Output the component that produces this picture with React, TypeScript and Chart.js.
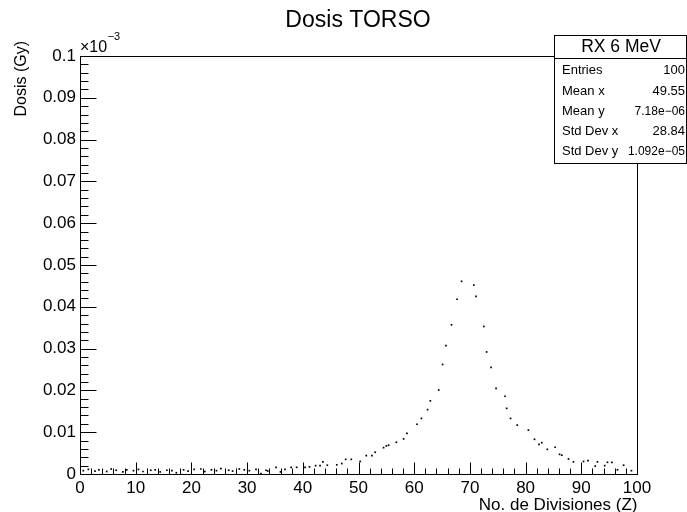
import React, { useEffect, useRef } from "react";
import { Chart, registerables } from "chart.js";

Chart.register(...registerables);

const FONT = "'Liberation Sans', Arial, Helvetica, sans-serif";

const TITLE = "Dosis TORSO";
const X_TITLE = "No. de Divisiones (Z)";
const Y_TITLE = "Dosis (Gy)";
const Y_EXPONENT = "\u22123";
const STATS_TITLE = "RX 6 MeV";
const statLabels = ["Entries", "Mean x", "Mean y", "Std Dev x", "Std Dev y"];
const statValues = ["100", "49.55", "7.18e\u221206", "28.84", "1.092e\u221205"];

// x axis: No. de Divisiones (Z)
const X_MIN = 0;
const X_MAX = 100;
const X_MAJOR = 10;
const X_MINOR = 2;
// y axis: Dosis in units of 10^-3 Gy
const Y_MIN = 0;
const Y_MAX = 0.1;
const Y_MAJOR = 0.01;
const Y_MINOR = 0.002;

const xLow = [0.6, 1.5, 2.7, 3.4, 4.8, 5.6, 6.5, 7.7, 8.4, 9.6, 10.5, 11.3, 12.7, 13.5, 14.4, 15.6, 16.5, 17.3, 18.6, 19.4, 20.5, 21.7, 22.4, 23.6, 24.5, 25.3, 26.7, 27.4, 28.6, 29.5, 30.4, 31.6];
const yLow = [0.0008, 0.0011, 0.0007, 0.001, 0.0006, 0.0012, 0.0009, 0.0005, 0.001, 0.0008, 0.0011, 0.0006, 0.0009, 0.001, 0.0005, 0.0009, 0.0008, 0.0003, 0.001, 0.0007, 0.0011, 0.0012, 0.0006, 0.001, 0.0008, 0.0013, 0.0009, 0.0007, 0.0012, 0.001, 0.0008, 0.0011];

const xMid = [32.5, 33.4, 33.7, 35.2, 36.0, 36.8, 37.9, 38.9, 40.4, 41.2, 42.3, 43.1, 43.6, 44.4, 46.1, 47.0, 47.7, 48.7, 50.3, 51.4, 52.4, 53.0, 54.5, 55.0, 55.4, 56.8];
const yMid = [0.0001, 0.0009, 0.0007, 0.0016, 0.0005, 0.0011, 0.0016, 0.0016, 0.0016, 0.0017, 0.002, 0.002, 0.0029, 0.0021, 0.0022, 0.0025, 0.0035, 0.0035, 0.003, 0.0044, 0.0044, 0.0052, 0.0063, 0.0067, 0.0069, 0.0076];

const xRise = [58.1, 58.7, 60.5, 61.3, 62.4, 62.9, 64.4, 65.1, 65.7, 66.7, 67.7, 68.5];
const yRise = [0.0084, 0.0097, 0.0119, 0.0133, 0.0154, 0.0175, 0.0201, 0.0262, 0.0307, 0.0357, 0.0418, 0.0461];

const xFall = [70.7, 71.1, 72.5, 73.0, 73.8, 74.7, 76.3, 76.6, 77.3, 78.5, 80.5, 81.6, 82.4, 82.9, 83.9, 85.3, 86.1, 86.5, 87.7, 88.6, 90.4, 91.2, 92.5, 92.9, 94.2, 94.7, 95.5, 96.5, 97.6, 99.0];
const yFall = [0.0452, 0.0425, 0.0353, 0.0292, 0.0255, 0.0205, 0.0186, 0.0157, 0.0133, 0.0117, 0.0105, 0.0083, 0.0071, 0.0075, 0.0059, 0.0064, 0.0047, 0.0045, 0.0036, 0.0029, 0.003, 0.0032, 0.0019, 0.0029, 0.002, 0.0028, 0.0028, 0.001, 0.0021, 0.0008];

const xAll = [...xLow, ...xMid, ...xRise, ...xFall];
const yAll = [...yLow, ...yMid, ...yRise, ...yFall];

const isMultiple = (v: number, step: number) => Math.abs(v / step - Math.round(v / step)) < 1e-6;

const rootPlugin = {
  id: "rootStyle",
  beforeDraw(chart: any) {
    const { ctx, width, height } = chart;
    ctx.save();
    ctx.fillStyle = "#ffffff";
    ctx.fillRect(0, 0, width, height);
    ctx.restore();
  },
  afterDraw(chart: any) {
    const { ctx, chartArea: a } = chart;
    const xs = chart.scales.x;
    const ys = chart.scales.y;
    ctx.save();
    ctx.strokeStyle = "#000";
    ctx.lineWidth = 1;
    const L = Math.round(a.left) + 0.5;
    const R = Math.round(a.right) + 0.5;
    const T = Math.round(a.top) + 0.5;
    const B = Math.round(a.bottom) + 0.5;
    ctx.strokeRect(L, T, R - L, B - T);

    ctx.beginPath();
    for (let i = 0; i <= Math.round((X_MAX - X_MIN) / X_MINOR); i++) {
      const v = X_MIN + i * X_MINOR;
      const px = Math.round(xs.getPixelForValue(v)) + 0.5;
      const len = isMultiple(v, X_MAJOR) ? 12 : 6;
      ctx.moveTo(px, B);
      ctx.lineTo(px, B - len);
    }
    for (let i = 0; i <= Math.round((Y_MAX - Y_MIN) / Y_MINOR); i++) {
      const v = Y_MIN + i * Y_MINOR;
      const py = Math.round(ys.getPixelForValue(v)) + 0.5;
      const len = i % Math.round(Y_MAJOR / Y_MINOR) === 0 ? 16 : 8;
      ctx.moveTo(L, py);
      ctx.lineTo(L + len, py);
    }
    ctx.stroke();

    ctx.fillStyle = "#000";
    // title
    ctx.font = `23px ${FONT}`;
    ctx.textAlign = "center";
    ctx.textBaseline = "middle";
    ctx.fillText(TITLE, 358, 21);

    // x title
    ctx.font = `17px ${FONT}`;
    ctx.textAlign = "right";
    ctx.fillText(X_TITLE, R, 505);

    // y title
    ctx.save();
    ctx.translate(22, 41);
    ctx.rotate(-Math.PI / 2);
    ctx.font = `16px ${FONT}`;
    ctx.textAlign = "right";
    ctx.textBaseline = "middle";
    ctx.fillText(Y_TITLE, 0, 0);
    ctx.restore();

    // exponent
    ctx.font = `16px ${FONT}`;
    ctx.textAlign = "left";
    ctx.textBaseline = "middle";
    const base = "\u00d710";
    ctx.fillText(base, 80, 48);
    const w = ctx.measureText(base).width;
    ctx.font = `11px ${FONT}`;
    ctx.fillText(Y_EXPONENT, 80 + w + 0.5, 37);

    // stats box
    const bx = 554.5, by = 35.5, bw = 132, bh = 128;
    ctx.fillStyle = "#fff";
    ctx.fillRect(bx, by, bw, bh);
    ctx.strokeRect(bx, by, bw, bh);
    ctx.beginPath();
    ctx.moveTo(bx, 58.5);
    ctx.lineTo(bx + bw, 58.5);
    ctx.stroke();
    ctx.fillStyle = "#000";
    ctx.font = `17.5px ${FONT}`;
    ctx.textAlign = "center";
    ctx.fillText(STATS_TITLE, 621, 47.5);
    statLabels.forEach((lab, i) => {
      const yy = 70.7 + i * 20.25;
      ctx.textAlign = "left";
      ctx.font = `13px ${FONT}`;
      ctx.fillText(lab, 562, yy);
      ctx.textAlign = "right";
      ctx.font = statValues[i].includes("e") ? `12px ${FONT}` : `13px ${FONT}`;
      ctx.fillText(statValues[i], 685, yy);
    });
    ctx.restore();
  },
};

export default function App() {
  const ref = useRef<HTMLCanvasElement>(null);
  useEffect(() => {
    if (!ref.current) return;
    const chart = new Chart(ref.current, {
      type: "scatter",
      data: {
        datasets: [
          {
            label: "RX 6 MeV",
            data: xAll.map((x, i) => ({ x, y: yAll[i] })),
            pointStyle: "rect",
            pointRadius: 1.2,
            pointHoverRadius: 1.2,
            borderWidth: 0,
            backgroundColor: "#000",
          },
        ],
      },
      options: {
        responsive: false,
        animation: false,
        events: [],
        layout: { padding: { left: 0, right: 50, top: 56, bottom: 0 } },
        plugins: { legend: { display: false }, tooltip: { enabled: false }, title: { display: false } },
        scales: {
          x: {
            type: "linear",
            min: X_MIN,
            max: X_MAX,
            grid: { display: false, drawTicks: false },
            border: { display: false },
            ticks: {
              stepSize: X_MAJOR,
              color: "#000",
              font: { family: FONT, size: 17 },
              padding: 4,
              maxRotation: 0,
              autoSkip: false,
            },
            afterFit: (s: any) => { s.height = 38; },
          },
          y: {
            type: "linear",
            min: Y_MIN,
            max: Y_MAX,
            grid: { display: false, drawTicks: false },
            border: { display: false },
            ticks: {
              stepSize: Y_MAJOR,
              color: "#000",
              font: { family: FONT, size: 17 },
              padding: 4,
              autoSkip: false,
              callback: (v: any) => String(parseFloat(Number(v).toFixed(3))),
            },
            afterFit: (s: any) => { s.width = 80; },
          },
        },
      },
      plugins: [rootPlugin],
    });
    return () => chart.destroy();
  }, []);
  return (
    <div style={{ position: "absolute", left: 0, top: 0, width: 687, height: 512 }}>
      <canvas ref={ref} width={687} height={512} style={{ display: "block", width: 687, height: 512 }} />
    </div>
  );
}
